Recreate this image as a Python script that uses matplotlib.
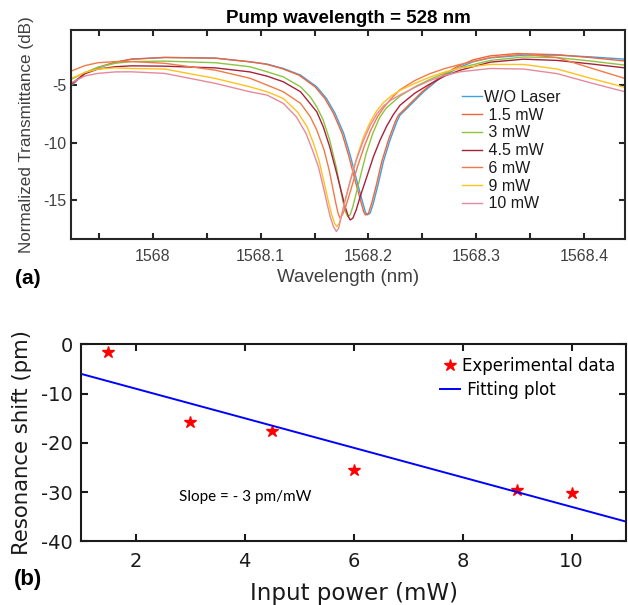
import numpy as np
import matplotlib
matplotlib.use("Agg")
import matplotlib.pyplot as plt
from matplotlib.ticker import FixedLocator

plt.rcParams['axes.unicode_minus'] = False

# ---- (a) transmission spectra, wavelength offsets from 1568 nm ----
powers = ["W/O Laser", " 1.5 mW", " 3 mW", " 4.5 mW", " 6 mW", " 9 mW", " 10 mW"]
colors = ["#3f9fe0", "#f0643a", "#8cc43f", "#a8223c", "#f07a48", "#ffc21f", "#e58a9c"]

wl_0 = [-0.076, -0.063, -0.051, -0.035, -0.020, 0.011, 0.058, 0.090, 0.106, 0.121, 0.137,
        0.152, 0.161, 0.169, 0.177, 0.183, 0.189, 0.194, 0.197, 0.1986, 0.2015, 0.2045,
        0.2092, 0.2138, 0.220, 0.2263, 0.2293, 0.236, 0.251, 0.266, 0.282, 0.297, 0.313,
        0.344, 0.375, 0.406, 0.438]
tr_0 = [-5.06, -3.98, -3.5, -3.03, -2.74, -2.59, -2.65, -2.97, -3.17, -3.55, -4.13,
        -5.15, -6.16, -7.46, -9.2, -11.09, -13.26, -15.0, -16.02, -16.3, -16.16, -15.29,
        -13.55, -11.67, -9.78, -8.19, -7.61, -7.0, -5.6, -4.42, -3.55, -2.97, -2.63,
        -2.39, -2.39, -2.54, -2.74]

wl_1 = [-0.076, -0.063, -0.051, -0.035, -0.020, 0.011, 0.058, 0.090, 0.1045, 0.1195, 0.1355,
        0.1505, 0.1595, 0.1675, 0.1755, 0.1815, 0.1875, 0.1925, 0.1955, 0.1971, 0.2000, 0.2030,
        0.2077, 0.2123, 0.2185, 0.2248, 0.2278, 0.2345, 0.2495, 0.2645, 0.281, 0.297, 0.313,
        0.338, 0.375, 0.406, 0.438]
tr_1 = [-5.0, -3.95, -3.45, -3.0, -2.74, -2.59, -2.65, -2.97, -3.17, -3.55, -4.13,
        -5.15, -6.16, -7.46, -9.2, -11.09, -13.26, -15.0, -16.02, -16.3, -16.16, -15.29,
        -13.55, -11.67, -9.78, -8.19, -7.61, -7.0, -5.6, -4.42, -3.45, -2.8, -2.45,
        -2.25, -2.35, -2.6, -2.9]

wl_2 = [-0.076, -0.063, -0.051, -0.035, -0.020, 0.011, 0.058, 0.090, 0.106, 0.121, 0.137,
        0.146, 0.152, 0.158, 0.164, 0.170, 0.173, 0.176, 0.1786, 0.1808, 0.183, 0.1855,
        0.1886, 0.1932, 0.1979, 0.204, 0.2102, 0.2164, 0.2293, 0.243, 0.257, 0.271, 0.285,
        0.313, 0.344, 0.375, 0.406, 0.438]
tr_2 = [-4.5, -3.9, -3.45, -3.1, -2.95, -2.91, -3.05, -3.4, -3.84, -4.28, -5.15,
        -6.02, -6.89, -8.04, -9.78, -12.1, -13.55, -15.0, -16.02, -16.45, -16.3, -15.58,
        -14.42, -12.68, -10.94, -9.2, -7.85, -7.0, -5.95, -5.15, -4.5, -3.95, -3.5,
        -2.85, -2.55, -2.6, -2.9, -3.26]

wl_3 = [-0.076, -0.063, -0.051, -0.035, -0.020, 0.011, 0.058, 0.090, 0.106, 0.121, 0.137,
        0.152, 0.158, 0.164, 0.1705, 0.1752, 0.1783, 0.1814, 0.183, 0.1855, 0.1886, 0.1923,
        0.1985, 0.2046, 0.2108, 0.2170, 0.2232, 0.2293, 0.243, 0.257, 0.271, 0.285, 0.313,
        0.344, 0.375, 0.406, 0.438]
tr_3 = [-4.9, -4.0, -3.6, -3.4, -3.32, -3.35, -3.5, -3.85, -4.22, -4.71, -5.58,
        -7.32, -8.62, -10.36, -12.68, -14.42, -15.58, -16.45, -16.74, -16.59, -15.87, -14.71,
        -12.97, -11.23, -9.78, -8.55, -7.55, -6.75, -5.7, -4.9, -4.2, -3.7, -3.0,
        -2.74, -2.85, -3.15, -3.5]

wl_4 = [-0.076, -0.063, -0.051, -0.035, -0.020, 0.011, 0.058, 0.090, 0.106, 0.121, 0.137,
        0.146, 0.152, 0.1588, 0.1635, 0.1666, 0.1697, 0.1718, 0.1736, 0.1758, 0.1789, 0.1836,
        0.1898, 0.196, 0.2022, 0.2084, 0.2146, 0.2208, 0.2293, 0.243, 0.257, 0.271, 0.285,
        0.313, 0.344, 0.375, 0.406, 0.438]
tr_4 = [-3.78, -3.3, -3.05, -2.95, -2.95, -3.1, -3.7, -4.4, -5.0, -5.58, -6.59,
        -7.75, -8.91, -10.65, -12.39, -13.84, -15.29, -16.16, -16.59, -16.3, -15.58, -14.13,
        -12.1, -10.36, -8.91, -7.75, -6.9, -6.2, -5.4, -4.6, -4.0, -3.55, -3.2,
        -2.6, -2.3, -2.6, -3.5, -4.42]

wl_5 = [-0.076, -0.063, -0.051, -0.035, -0.020, 0.011, 0.058, 0.090, 0.106, 0.121, 0.134,
        0.143, 0.149, 0.154, 0.159, 0.1625, 0.1655, 0.1685, 0.1708, 0.1729, 0.1754, 0.1785,
        0.1832, 0.1894, 0.1955, 0.2017, 0.2079, 0.2141, 0.221, 0.2293, 0.243, 0.257, 0.271,
        0.285, 0.313, 0.344, 0.375, 0.406, 0.438]
tr_5 = [-4.42, -3.9, -3.6, -3.5, -3.55, -3.6, -4.42, -5.15, -5.58, -6.16, -7.32,
        -8.62, -10.07, -11.52, -13.55, -15.0, -16.16, -17.03, -17.32, -17.03, -16.16, -15.0,
        -13.26, -11.23, -9.49, -8.19, -7.2, -6.5, -5.95, -5.45, -4.85, -4.3, -3.85,
        -3.5, -3.2, -3.2, -3.6, -4.4, -5.2]

wl_6 = [-0.076, -0.063, -0.051, -0.035, -0.020, 0.011, 0.058, 0.090, 0.106, 0.121, 0.133,
        0.142, 0.148, 0.1535, 0.158, 0.1615, 0.1645, 0.1675, 0.1702, 0.1723, 0.1745, 0.1776,
        0.1825, 0.1887, 0.1955, 0.2017, 0.2079, 0.2141, 0.221, 0.2293, 0.243, 0.257, 0.271,
        0.285, 0.313, 0.344, 0.375, 0.406, 0.438]
tr_6 = [-4.8, -4.2, -3.98, -3.85, -3.84, -3.98, -4.85, -5.58, -5.87, -6.59, -7.75,
        -9.2, -10.65, -12.1, -13.84, -15.29, -16.45, -17.32, -17.75, -17.46, -16.59, -15.29,
        -13.55, -11.52, -9.78, -8.48, -7.5, -6.8, -6.3, -5.85, -5.2, -4.6, -4.15,
        -3.84, -3.55, -3.6, -4.0, -4.8, -5.58]

spectra = [(wl_0, tr_0), (wl_1, tr_1), (wl_2, tr_2), (wl_3, tr_3),
           (wl_4, tr_4), (wl_5, tr_5), (wl_6, tr_6)]

# ---- (b) resonance shift vs pump power ----
power_mw = [1.5, 3, 4.5, 6, 9, 10]
shift_pm = [-1.5, -15.8, -17.6, -25.6, -29.5, -30.1]
fit_slope = -3.0
fit_intercept = -3.0
fit_x = [1, 11]

W, H = 628, 605
fig = plt.figure(figsize=(W / 100, H / 100), dpi=100)

top_font = "Liberation Sans"
grey = "#404040"

ax1 = fig.add_axes([71 / W, 1 - 239 / H, 554 / W, 209 / H])
for (wl, tr), lab, c in zip(spectra, powers, colors):
    ax1.plot(1568 + np.array(wl), tr, color=c, lw=1.0, label=lab)

ax1.set_xlim(1567.924, 1568.438)
ax1.set_ylim(-18.4, -0.2)
ax1.xaxis.set_major_locator(FixedLocator([1568.0, 1568.1, 1568.2, 1568.3, 1568.4]))
ax1.xaxis.set_minor_locator(FixedLocator([1567.95, 1568.05, 1568.15, 1568.25, 1568.35]))
ax1.set_xticklabels(["1568", "1568.1", "1568.2", "1568.3", "1568.4"])
ax1.set_yticks([-15, -10, -5])
ax1.tick_params(which="both", direction="in", top=True, right=True, length=4, width=1.5,
                colors="#262626", labelcolor=grey, labelsize=11.5)
ax1.tick_params(axis="x", pad=7)
for lbl in ax1.get_xticklabels() + ax1.get_yticklabels():
    lbl.set_family(top_font)
for sp in ax1.spines.values():
    sp.set_linewidth(1.5)
    sp.set_color("#262626")

ax1.set_xlabel("Wavelength (nm)", fontsize=13.5, family=top_font, color=grey)
ax1.set_ylabel("Normalized Transmittance (dB)", fontsize=12.3, family=top_font, color=grey)
ax1.xaxis.set_label_coords(0.5, -0.145)
ax1.yaxis.set_label_coords(-0.067, 0.5)
ax1.set_title("Pump wavelength = 528 nm", fontsize=13.5, fontweight="bold",
              family=top_font, pad=5)

leg1 = ax1.legend(loc="upper left", bbox_to_anchor=(462 / W, 1 - 90 / H),
                  bbox_transform=fig.transFigure, frameon=False,
                  prop={"family": top_font, "size": 11.5}, handlelength=1.25,
                  handletextpad=0.1, labelspacing=0.17, borderpad=0, borderaxespad=0)
for t in leg1.get_texts():
    t.set_color("#1a1a1a")

fig.text(15 / W, 1 - 278 / H, "(a)", fontsize=15, fontweight="bold",
         family=top_font, va="center", ha="left")

# ---- bottom panel ----
ax2 = fig.add_axes([81 / W, 1 - 541.3 / H, 545 / W, 197 / H])
ax2.plot(power_mw, shift_pm, linestyle="none", marker="*", color="red", ms=9,
         label="Experimental data")
fit_y = [fit_slope * x + fit_intercept for x in fit_x]
ax2.plot(fit_x, fit_y, color="blue", lw=1.4, label=" Fitting plot")

ax2.set_xlim(1, 11)
ax2.set_ylim(-40, 0)
ax2.set_xticks([2, 4, 6, 8, 10])
ax2.set_yticks([-40, -30, -20, -10, 0])
ax2.tick_params(direction="in", top=True, right=True, length=5, width=1.5,
                colors="#1a1a1a", labelsize=14)
ax2.tick_params(axis="x", pad=8)
ax2.tick_params(axis="y", pad=6)
for sp in ax2.spines.values():
    sp.set_linewidth(1.5)
    sp.set_color("#1a1a1a")
ax2.set_xlabel("Input power (mW)", fontsize=16.5, color="#1a1a1a")
ax2.set_ylabel("Resonance shift (pm)", fontsize=15.3, color="#1a1a1a")
ax2.xaxis.set_label_coords(0.5, -0.205)
ax2.yaxis.set_label_coords(-0.09, 0.5)

ax2.text(2.8, -31, "Slope = - 3 pm/mW", fontsize=11, family="Lato", va="center")

ax2.legend(loc="upper left", bbox_to_anchor=(440 / W, 1 - 357 / H),
           bbox_transform=fig.transFigure, frameon=False, fontsize=12,
           handlelength=1.2, handletextpad=0.1, labelspacing=0.35,
           borderpad=0, borderaxespad=0)

fig.text(14 / W, 1 - 579 / H, "(b)", fontsize=16, fontweight="bold",
         family=top_font, va="center", ha="left")

fig.savefig("out.png", dpi=100)
